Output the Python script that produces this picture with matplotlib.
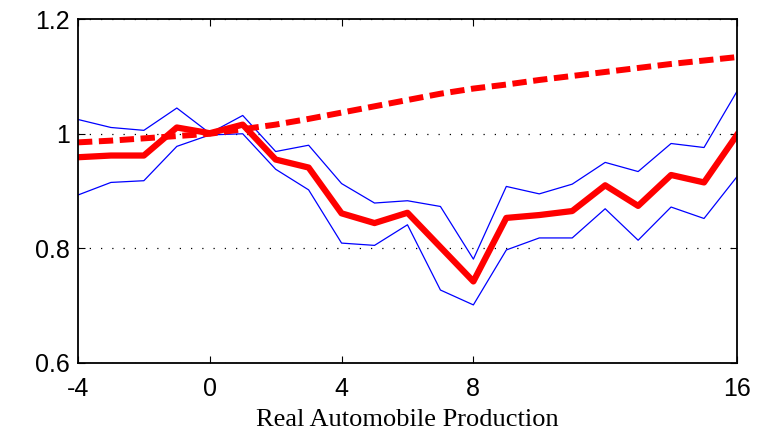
import matplotlib
matplotlib.use('Agg')
import matplotlib.pyplot as plt
import numpy as np

horizon = np.arange(-4, 17)

# impulse response and its bands
response = [0.959, 0.962, 0.962, 1.011, 1.001, 1.016, 0.955, 0.941, 0.861, 0.844,
            0.862, 0.802, 0.742, 0.853, 0.858, 0.865, 0.910, 0.874, 0.928, 0.915, 0.998]
upper = [1.025, 1.011, 1.006, 1.045, 1.001, 1.032, 0.969, 0.980, 0.913, 0.879,
         0.883, 0.873, 0.781, 0.908, 0.895, 0.912, 0.950, 0.934, 0.983, 0.976, 1.074]
lower = [0.893, 0.915, 0.918, 0.978, 0.998, 1.000, 0.938, 0.902, 0.809, 0.805,
         0.841, 0.727, 0.701, 0.797, 0.818, 0.818, 0.869, 0.814, 0.872, 0.852, 0.925]
trend = [0.985, 0.988, 0.992, 0.996, 1.000, 1.008, 1.016, 1.026, 1.037, 1.048,
         1.059, 1.070, 1.079, 1.086, 1.094, 1.101, 1.108, 1.115, 1.122, 1.128, 1.134]

xticks = [-4, 0, 4, 8, 16]
yticks = [0.6, 0.8, 1.0, 1.2]
yticklabels = ['0.6', '0.8', '1', '1.2']

fig = plt.figure(figsize=(7.66, 4.37), dpi=100)
ax = fig.add_axes([0.1018, 0.170, 0.8603, 0.7858])

ax.plot(horizon, upper, color='blue', lw=0.9)
ax.plot(horizon, lower, color='blue', lw=0.9)
ax.plot(horizon, trend, color='red', lw=4.3, dashes=(2.4, 1.1))
ax.plot(horizon, response, color='red', lw=4.5)

ax.set_xlim(-4, 16)
ax.set_ylim(0.6, 1.2)
ax.set_xticks(xticks)
ax.set_xticklabels([str(t) for t in xticks], fontsize=18, family='Liberation Sans')
ax.set_yticks(yticks)
ax.set_yticklabels(yticklabels, fontsize=18, family='Liberation Sans')
ax.tick_params(direction='in', top=True, right=True, length=5, width=0.8)
ax.tick_params(axis='x', pad=10)
ax.tick_params(axis='y', pad=6)

ax.yaxis.grid(True, color='black', linestyle=(0, (1, 8)), lw=0.9)
for s in ax.spines.values():
    s.set_linewidth(1.3)

ax.set_xlabel('Real Automobile Production', fontsize=19, family='Liberation Serif', labelpad=6)

fig.savefig('out.png', dpi=100)
